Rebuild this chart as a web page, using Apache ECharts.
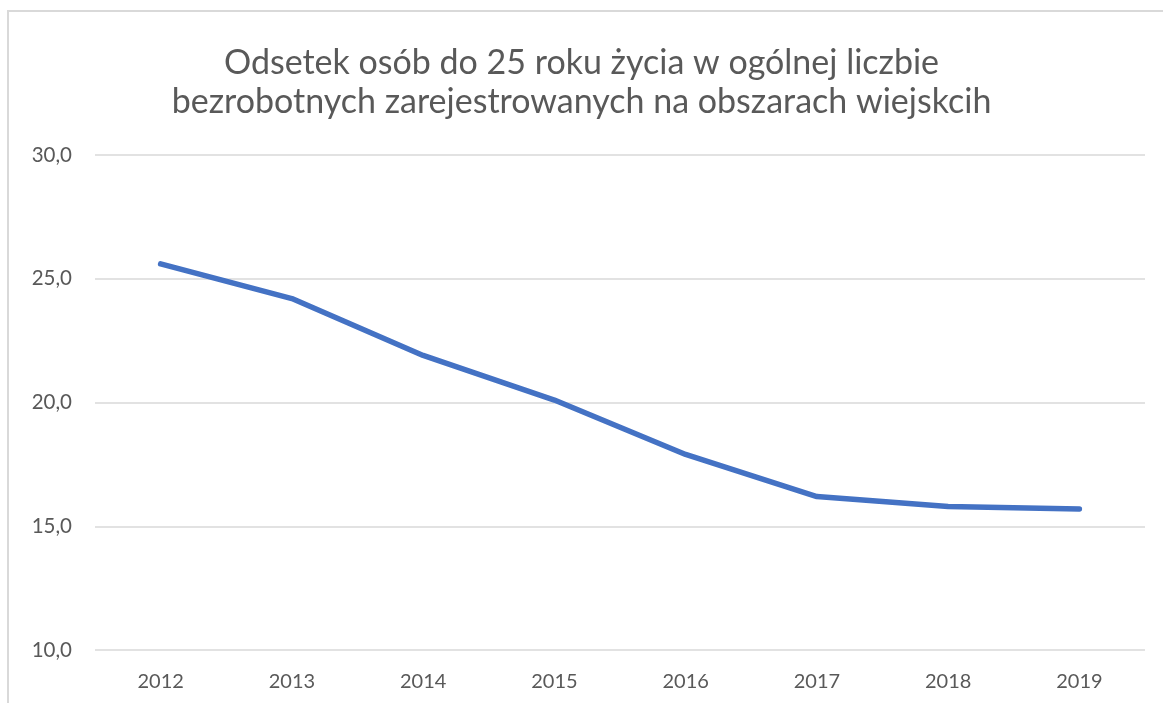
<!DOCTYPE html>
<html>
<head>
<meta charset="utf-8">
<script src="https://cdn.jsdelivr.net/npm/echarts@6/dist/echarts.min.js"></script>
<style>
  html, body { margin: 0; padding: 0; background: #fff; }
  #frame { position: absolute; left: 7px; top: 10px; width: 1200px; height: 720px;
           border-left: 2px solid #d9d9d9; border-top: 2px solid #d9d9d9; }
  #chart { position: absolute; left: 0; top: 0; width: 1163px; height: 703px; }
</style>
</head>
<body>
<div id="frame"></div>
<div id="chart"></div>
<script>
// dane z wykresu
const years = ['2012', '2013', '2014', '2015', '2016', '2017', '2018', '2019'];
const shareUnder25 = [25.6, 24.2, 21.9, 20.1, 17.9, 16.2, 15.8, 15.7];
const titleText = 'Odsetek osób do 25 roku życia w ogólnej liczbie\nbezrobotnych zarejestrowanych na obszarach wiejskcih';

const myChart = echarts.init(document.getElementById('chart'));
myChart.setOption({
  animation: false,
  textStyle: { fontFamily: 'Lato' },
  title: {
    text: titleText,
    left: 'center',
    top: 39,
    textStyle: {
      fontFamily: 'Lato',
      fontSize: 34,
      fontWeight: 'normal',
      color: '#595959',
      lineHeight: 39
    }
  },
  grid: { left: 95, right: 18, top: 155, bottom: 53 },
  xAxis: {
    type: 'category',
    data: years,
    boundaryGap: true,
    axisLine: { show: false },
    axisTick: { show: false },
    axisLabel: { color: '#595959', fontSize: 20, margin: 22 }
  },
  yAxis: {
    type: 'value',
    min: 10,
    max: 30,
    interval: 5,
    axisLine: { show: false },
    axisTick: { show: false },
    splitLine: { lineStyle: { color: '#d9d9d9', width: 1.5 } },
    axisLabel: {
      color: '#595959',
      fontSize: 20.5,
      margin: 23,
      formatter: v => v.toFixed(1).replace('.', ',')
    }
  },
  series: [
    {
      type: 'line',
      data: shareUnder25,
      showSymbol: false,
      lineStyle: { color: '#4472C4', width: 5.5, cap: 'round', join: 'round' },
      itemStyle: { color: '#4472C4' }
    }
  ]
});
</script>
</body>
</html>
